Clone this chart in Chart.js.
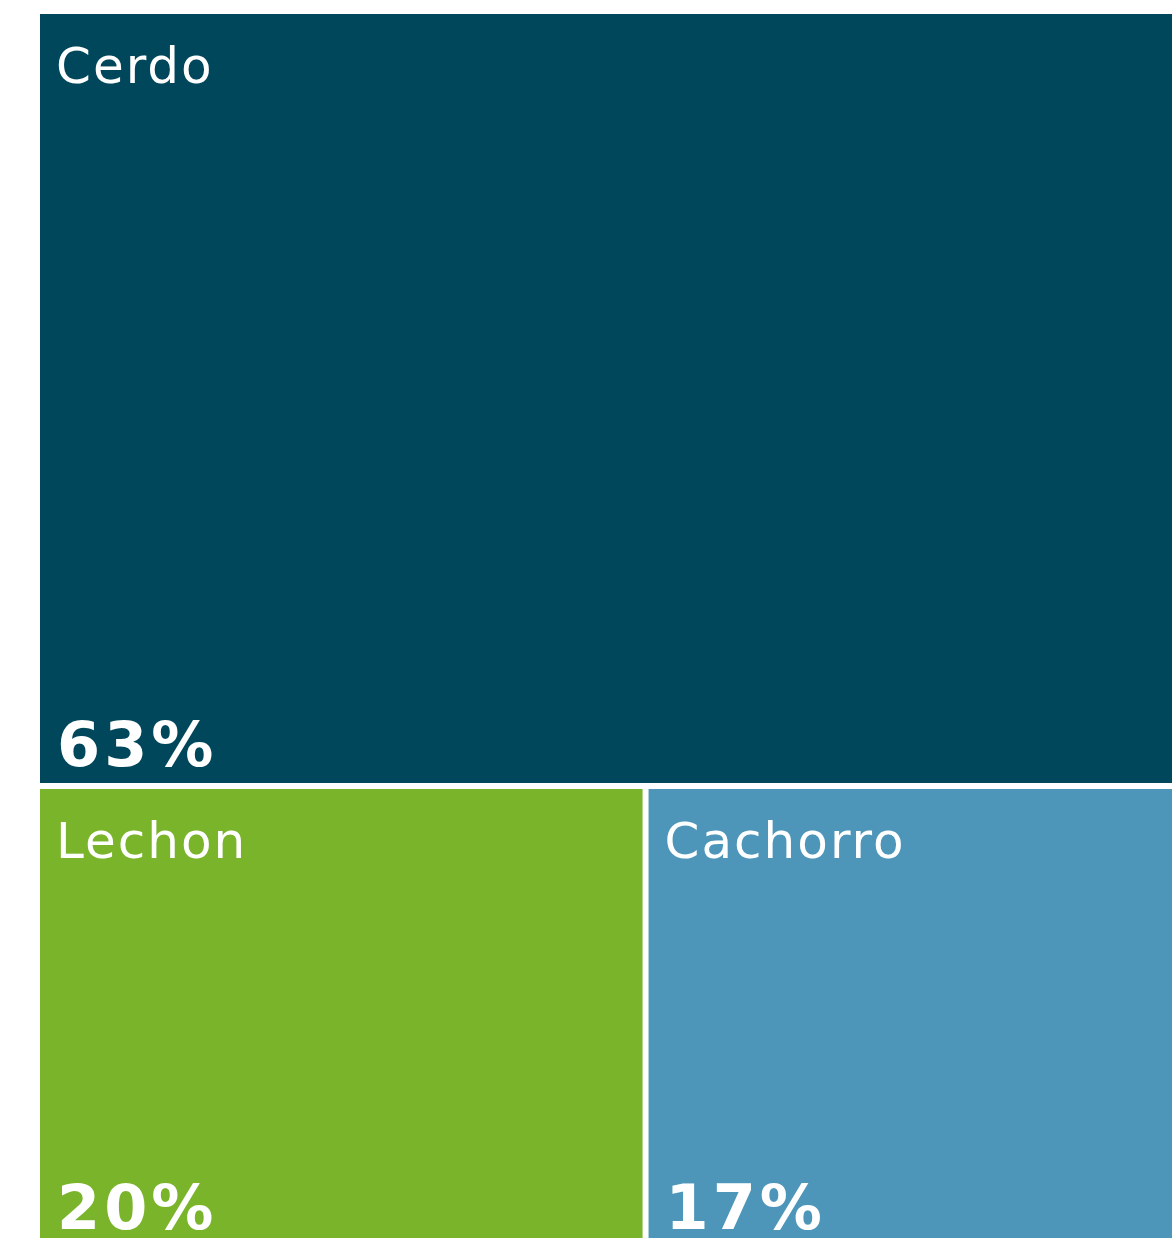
<!DOCTYPE html>
<html>
<head>
<meta charset="utf-8">
<script src="https://cdn.jsdelivr.net/npm/chart.js@4"></script>
<style>
  html, body { margin: 0; padding: 0; background: #fff; overflow: hidden; }
  #wrap { width: 1175px; height: 1249px; }
</style>
</head>
<body>
<div id="wrap"><canvas id="treeChart"></canvas></div>
<script>
// Treemap data
const categories = ['Cerdo', 'Lechon', 'Cachorro'];
const shares = [62.6, 20.0, 17.4];
const colors = ['#01475b', '#79b42a', '#4d96ba'];

// first cell takes a full-width strip, the rest share the row below
function layout(values) {
    const total = values.reduce((a, b) => a + b, 0);
    const cells = [];
    const topH = 100 * values[0] / total;
    cells.push({ x0: 0, x1: 100, y0: 0, y1: topH });
    const rest = total - values[0];
    let x = 0;
    for (let i = 1; i < values.length; i++) {
        const w = 100 * values[i] / rest;
        cells.push({ x0: x, x1: x + w, y0: topH, y1: 100 });
        x += w;
    }
    return cells;
}

const treemapPlugin = {
    id: 'treemap',
    afterDatasetsDraw(chart) {
        const ctx = chart.ctx;
        const xs = chart.scales.x;
        const ys = chart.scales.y;
        const total = shares.reduce((a, b) => a + b, 0);
        const gap = 3;
        layout(shares).forEach((c, i) => {
            const left = xs.getPixelForValue(c.x0) + gap;
            const right = xs.getPixelForValue(c.x1) - gap;
            const top = ys.getPixelForValue(c.y0) + gap;
            const bottom = ys.getPixelForValue(c.y1) - gap;
            ctx.save();
            ctx.fillStyle = colors[i];
            ctx.fillRect(left, top, right - left, bottom - top);
            ctx.fillStyle = '#ffffff';
            ctx.textAlign = 'left';
            ctx.textBaseline = 'alphabetic';
            ctx.font = '50px "DejaVu Sans"';
            ctx.letterSpacing = '2px';
            ctx.fillText(categories[i], left + 16, top + 69);
            ctx.font = 'bold 62px "DejaVu Sans"';
            ctx.letterSpacing = '4px';
            ctx.fillText(Math.round(shares[i] / total * 100) + '%', left + 17, bottom - 17);
            ctx.restore();
        });
    }
};

const ctxTree = document.getElementById('treeChart').getContext('2d');
const treeChart = new Chart(ctxTree, {
    type: 'scatter',
    data: {
        labels: categories,
        datasets: [{
            label: 'Share',
            data: []
        }]
    },
    options: {
        responsive: true,
        maintainAspectRatio: false,
        animation: false,
        layout: { padding: { left: 37, top: 11, right: 0, bottom: 0 } },
        plugins: {
            legend: { display: false },
            tooltip: { enabled: false }
        },
        scales: {
            x: { type: 'linear', min: 0, max: 100, display: false },
            y: { type: 'linear', min: 0, max: 100, reverse: true, display: false }
        }
    },
    plugins: [treemapPlugin]
});
</script>
</body>
</html>
